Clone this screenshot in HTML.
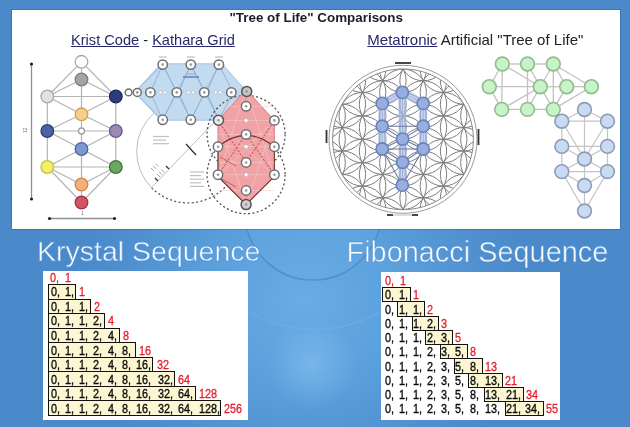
<!DOCTYPE html>
<html><head><meta charset="utf-8"><style>
html,body{margin:0;padding:0;width:630px;height:427px;overflow:hidden;}
body{position:relative;font-family:"Liberation Sans",sans-serif;
background:#4d8ac8;}
.abs{position:absolute;}
.toppanel{position:absolute;left:12px;top:10px;width:608px;height:219px;background:#fff;box-shadow:0 0 0 1px rgba(40,80,130,0.35);}
.panel{position:absolute;background:#fff;}
.box{position:absolute;box-sizing:border-box;border:1.4px solid #111;background:#fcf7d2;}
.t{position:absolute;font-size:12.3px;line-height:15px;color:#0c0c0c;white-space:pre;-webkit-text-stroke:0.35px #0c0c0c;margin-top:1.4px;transform:scaleX(0.88);transform-origin:0 0}
.t.red{color:#e4202a;-webkit-text-stroke:0.3px #e4202a;}

.head{position:absolute;color:#fbfdff;-webkit-text-stroke:0.8px rgba(86,148,212,0.75);white-space:nowrap;line-height:1;}
#wrap{position:absolute;left:0;top:0;width:630px;height:427px;filter:blur(0.35px);}
</style></head><body><div id="wrap">
<svg class="abs" style="left:0;top:0" width="630" height="427" viewBox="0 0 630 427">
<defs>
<radialGradient id="glow" cx="305" cy="300" r="230" gradientUnits="userSpaceOnUse" gradientTransform="translate(305 300) scale(1 0.9) translate(-305 -300)">
<stop offset="0" stop-color="#68ade6"/><stop offset="0.45" stop-color="#5a9edb"/><stop offset="0.8" stop-color="#4f8fcf"/><stop offset="1" stop-color="#4b8aca"/>
</radialGradient>
<radialGradient id="spot" cx="312" cy="365" r="45" gradientUnits="userSpaceOnUse">
<stop offset="0" stop-color="#8cc4f0" stop-opacity="0.55"/><stop offset="1" stop-color="#8cc4f0" stop-opacity="0"/>
</radialGradient>
</defs>
<rect width="630" height="427" fill="url(#glow)"/>
<rect width="630" height="427" fill="url(#spot)"/>
<circle cx="313" cy="212" r="68" fill="#6aaee6" fill-opacity="0.25" stroke="#4a88c6" stroke-opacity="0.7" stroke-width="1.6"/>
<path d="M 250 312 A 131 131 0 0 0 380 312" fill="none" stroke="#7ab8ea" stroke-opacity="0.45" stroke-width="1.2"/>
</svg>
<div class="toppanel"></div>
<svg class="abs" style="left:0;top:0" width="630" height="427" viewBox="0 0 630 427">
<line x1="81.5" y1="61.8" x2="47.3" y2="96.5" stroke="#b4b4b4" stroke-width="1.2" />
<line x1="81.5" y1="61.8" x2="115.8" y2="96.5" stroke="#b4b4b4" stroke-width="1.2" />
<line x1="81.5" y1="61.8" x2="81.5" y2="79.5" stroke="#b4b4b4" stroke-width="1.2" />
<line x1="81.5" y1="79.5" x2="47.3" y2="96.5" stroke="#b4b4b4" stroke-width="1.2" />
<line x1="81.5" y1="79.5" x2="115.8" y2="96.5" stroke="#b4b4b4" stroke-width="1.2" />
<line x1="81.5" y1="79.5" x2="81.5" y2="114.3" stroke="#b4b4b4" stroke-width="1.2" />
<line x1="47.3" y1="96.5" x2="115.8" y2="96.5" stroke="#b4b4b4" stroke-width="1.2" />
<line x1="47.3" y1="96.5" x2="81.5" y2="114.3" stroke="#b4b4b4" stroke-width="1.2" />
<line x1="115.8" y1="96.5" x2="81.5" y2="114.3" stroke="#b4b4b4" stroke-width="1.2" />
<line x1="47.3" y1="96.5" x2="47.3" y2="131.0" stroke="#b4b4b4" stroke-width="1.2" />
<line x1="115.8" y1="96.5" x2="115.8" y2="131.0" stroke="#b4b4b4" stroke-width="1.2" />
<line x1="81.5" y1="114.3" x2="47.3" y2="131.0" stroke="#b4b4b4" stroke-width="1.2" />
<line x1="81.5" y1="114.3" x2="115.8" y2="131.0" stroke="#b4b4b4" stroke-width="1.2" />
<line x1="47.3" y1="131.0" x2="81.5" y2="131.0" stroke="#b4b4b4" stroke-width="1.2" />
<line x1="81.5" y1="131.0" x2="115.8" y2="131.0" stroke="#b4b4b4" stroke-width="1.2" />
<line x1="81.5" y1="114.3" x2="81.5" y2="149.0" stroke="#b4b4b4" stroke-width="1.2" />
<line x1="47.3" y1="131.0" x2="81.5" y2="149.0" stroke="#b4b4b4" stroke-width="1.2" />
<line x1="115.8" y1="131.0" x2="81.5" y2="149.0" stroke="#b4b4b4" stroke-width="1.2" />
<line x1="47.3" y1="131.0" x2="47.3" y2="167.0" stroke="#b4b4b4" stroke-width="1.2" />
<line x1="115.8" y1="131.0" x2="115.8" y2="167.0" stroke="#b4b4b4" stroke-width="1.2" />
<line x1="81.5" y1="149.0" x2="47.3" y2="167.0" stroke="#b4b4b4" stroke-width="1.2" />
<line x1="81.5" y1="149.0" x2="115.8" y2="167.0" stroke="#b4b4b4" stroke-width="1.2" />
<line x1="47.3" y1="167.0" x2="115.8" y2="167.0" stroke="#b4b4b4" stroke-width="1.2" />
<line x1="47.3" y1="167.0" x2="81.5" y2="184.5" stroke="#b4b4b4" stroke-width="1.2" />
<line x1="115.8" y1="167.0" x2="81.5" y2="184.5" stroke="#b4b4b4" stroke-width="1.2" />
<line x1="81.5" y1="149.0" x2="81.5" y2="184.5" stroke="#b4b4b4" stroke-width="1.2" />
<line x1="47.3" y1="167.0" x2="81.5" y2="202.5" stroke="#b4b4b4" stroke-width="1.2" />
<line x1="115.8" y1="167.0" x2="81.5" y2="202.5" stroke="#b4b4b4" stroke-width="1.2" />
<line x1="81.5" y1="184.5" x2="81.5" y2="202.5" stroke="#b4b4b4" stroke-width="1.2" />
<circle cx="81.5" cy="61.8" r="6.3" fill="#ffffff" stroke="#a8a8a8" stroke-width="1.3" />
<circle cx="81.5" cy="79.5" r="6.3" fill="#a4a4a4" stroke="#7c7c7c" stroke-width="1.3" />
<circle cx="47.3" cy="96.5" r="6.3" fill="#e2e2e2" stroke="#a6a6a6" stroke-width="1.3" />
<circle cx="115.8" cy="96.5" r="6.3" fill="#2c3c7c" stroke="#1c2a5c" stroke-width="1.3" />
<circle cx="81.5" cy="114.3" r="6.3" fill="#f4d08c" stroke="#caa25a" stroke-width="1.3" />
<circle cx="47.3" cy="131.0" r="6.3" fill="#4a64a4" stroke="#2a4074" stroke-width="1.3" />
<circle cx="81.5" cy="131.0" r="3.0" fill="#ffffff" stroke="#a0a0a0" stroke-width="1.3" />
<circle cx="115.8" cy="131.0" r="6.3" fill="#9c8ab4" stroke="#6a5a88" stroke-width="1.3" />
<circle cx="81.5" cy="149.0" r="6.3" fill="#7c98cc" stroke="#4a66a0" stroke-width="1.3" />
<circle cx="47.3" cy="167.0" r="6.3" fill="#f4f06a" stroke="#c8bc3c" stroke-width="1.3" />
<circle cx="115.8" cy="167.0" r="6.3" fill="#6aa862" stroke="#3a7430" stroke-width="1.3" />
<circle cx="81.5" cy="184.5" r="6.3" fill="#f4b07c" stroke="#cc8450" stroke-width="1.3" />
<circle cx="81.5" cy="202.5" r="6.3" fill="#d05464" stroke="#a03040" stroke-width="1.3" />
<line x1="31.5" y1="64.0" x2="31.5" y2="199.0" stroke="#909090" stroke-width="1.3" />
<circle cx="31.5" cy="64.0" r="1.6" fill="#222" stroke="none" stroke-width="0" />
<circle cx="31.5" cy="199.0" r="1.6" fill="#222" stroke="none" stroke-width="0" />
<line x1="49.0" y1="218.5" x2="114.5" y2="218.5" stroke="#909090" stroke-width="1.3" />
<circle cx="49.5" cy="218.5" r="1.6" fill="#222" stroke="none" stroke-width="0" />
<circle cx="114.5" cy="218.5" r="1.6" fill="#222" stroke="none" stroke-width="0" />
<text x="27" y="133" font-size="5" fill="#777" font-family="Liberation Sans" transform="rotate(-90 27 133)">12</text>
<text x="81" y="215" font-size="5" fill="#777" font-family="Liberation Sans">1</text>
<path d="M 153.6 113.4 A 51.4 51.4 0 0 0 151.7 187.9" fill="none" stroke="#bdbdbd" stroke-width="1"/>
<path d="M 151.7 187.9 A 51.4 51.4 0 0 0 236.3 169.2" fill="none" stroke="#5a5a5a" stroke-width="1.3" stroke-dasharray="2 2.4"/>
<line x1="151.7" y1="187.4" x2="217.8" y2="118.4" stroke="#b8b8b8" stroke-width="0.9" />
<line x1="186.0" y1="144.0" x2="196.0" y2="155.0" stroke="#333" stroke-width="1.3" />
<line x1="155.0" y1="178.0" x2="158.0" y2="181.0" stroke="#333" stroke-width="1.2" />
<line x1="166.0" y1="166.0" x2="169.0" y2="169.0" stroke="#333" stroke-width="1.2" />
<line x1="153.0" y1="136.5" x2="169.0" y2="136.5" stroke="#c0c0c0" stroke-width="1.2" />
<line x1="153.0" y1="140.1" x2="166.0" y2="140.1" stroke="#c0c0c0" stroke-width="1.2" />
<line x1="153.0" y1="143.7" x2="169.0" y2="143.7" stroke="#c0c0c0" stroke-width="1.2" />
<line x1="190.0" y1="172.0" x2="204.0" y2="172.0" stroke="#c0c0c0" stroke-width="1.2" />
<line x1="190.0" y1="175.6" x2="201.0" y2="175.6" stroke="#c0c0c0" stroke-width="1.2" />
<line x1="190.0" y1="179.2" x2="204.0" y2="179.2" stroke="#c0c0c0" stroke-width="1.2" />
<line x1="190.0" y1="182.8" x2="201.0" y2="182.8" stroke="#c0c0c0" stroke-width="1.2" />
<line x1="190.0" y1="186.4" x2="204.0" y2="186.4" stroke="#c0c0c0" stroke-width="1.2" />
<line x1="151.0" y1="168.0" x2="154.0" y2="171.0" stroke="#999" stroke-width="0.9" />
<line x1="153.2" y1="165.8" x2="156.2" y2="168.8" stroke="#999" stroke-width="0.9" />
<line x1="155.4" y1="163.6" x2="158.4" y2="166.6" stroke="#999" stroke-width="0.9" />
<line x1="157.0" y1="174.0" x2="160.0" y2="177.0" stroke="#999" stroke-width="0.9" />
<line x1="159.2" y1="171.8" x2="162.2" y2="174.8" stroke="#999" stroke-width="0.9" />
<line x1="161.4" y1="169.6" x2="164.4" y2="172.6" stroke="#999" stroke-width="0.9" />
<polygon points="134.6,92.4 161,63.8 222,63.8 246.7,91.4 218.5,120.2 161,120.2" fill="#c3dbf0" stroke="#a9c6e2" stroke-width="1"/>
<line x1="162.7" y1="64.6" x2="150.4" y2="92.4" stroke="#8eaed2" stroke-width="0.9" />
<line x1="162.7" y1="119.8" x2="150.4" y2="92.4" stroke="#8eaed2" stroke-width="0.9" />
<line x1="162.7" y1="64.6" x2="176.8" y2="92.4" stroke="#8eaed2" stroke-width="0.9" />
<line x1="162.7" y1="119.8" x2="176.8" y2="92.4" stroke="#8eaed2" stroke-width="0.9" />
<line x1="190.8" y1="64.6" x2="178.5" y2="92.4" stroke="#8eaed2" stroke-width="0.9" />
<line x1="190.8" y1="119.8" x2="178.5" y2="92.4" stroke="#8eaed2" stroke-width="0.9" />
<line x1="190.8" y1="64.6" x2="204.9" y2="92.4" stroke="#8eaed2" stroke-width="0.9" />
<line x1="190.8" y1="119.8" x2="204.9" y2="92.4" stroke="#8eaed2" stroke-width="0.9" />
<line x1="218.9" y1="64.6" x2="206.6" y2="92.4" stroke="#8eaed2" stroke-width="0.9" />
<line x1="218.9" y1="119.8" x2="206.6" y2="92.4" stroke="#8eaed2" stroke-width="0.9" />
<line x1="218.9" y1="64.6" x2="233.0" y2="92.4" stroke="#8eaed2" stroke-width="0.9" />
<line x1="218.9" y1="119.8" x2="233.0" y2="92.4" stroke="#8eaed2" stroke-width="0.9" />
<line x1="162.7" y1="64.6" x2="190.8" y2="119.8" stroke="#8eaed2" stroke-width="0.7" />
<line x1="162.7" y1="119.8" x2="190.8" y2="64.6" stroke="#8eaed2" stroke-width="0.7" />
<line x1="190.8" y1="64.6" x2="218.9" y2="119.8" stroke="#8eaed2" stroke-width="0.7" />
<line x1="190.8" y1="119.8" x2="218.9" y2="64.6" stroke="#8eaed2" stroke-width="0.7" />
<line x1="134.6" y1="92.4" x2="162.7" y2="119.8" stroke="#8eaed2" stroke-width="0.7" />
<line x1="134.6" y1="92.4" x2="162.7" y2="64.6" stroke="#8eaed2" stroke-width="0.7" />
<line x1="134.6" y1="92.4" x2="246.7" y2="92.4" stroke="#b8d0e8" stroke-width="0.8" />
<line x1="183.0" y1="77.0" x2="199.0" y2="77.0" stroke="#5a7ab0" stroke-width="1.4" />
<line x1="187.0" y1="74.0" x2="195.0" y2="74.0" stroke="#8aa4c8" stroke-width="1.0" />
<circle cx="246.1" cy="134.4" r="39" fill="none" stroke="#505050" stroke-width="1.3" stroke-dasharray="2 2.4"/>
<circle cx="246.1" cy="174.7" r="39" fill="none" stroke="#505050" stroke-width="1.3" stroke-dasharray="2 2.4"/>
<polygon points="246.1,89.5 274.4,120.4 274.4,176.5 246.1,204.6 218,176.5 218,120.4" fill="#f0a2a4" stroke="#d88286" stroke-width="1"/>
<line x1="218.0" y1="106.3" x2="274.4" y2="106.3" stroke="#f6caca" stroke-width="0.6" />
<line x1="218.0" y1="120.4" x2="274.4" y2="120.4" stroke="#f6caca" stroke-width="0.6" />
<line x1="218.0" y1="134.4" x2="274.4" y2="134.4" stroke="#f6caca" stroke-width="0.6" />
<line x1="218.0" y1="146.7" x2="274.4" y2="146.7" stroke="#f6caca" stroke-width="0.6" />
<line x1="218.0" y1="162.5" x2="274.4" y2="162.5" stroke="#f6caca" stroke-width="0.6" />
<line x1="218.0" y1="174.7" x2="274.4" y2="174.7" stroke="#f6caca" stroke-width="0.6" />
<line x1="218.0" y1="190.5" x2="274.4" y2="190.5" stroke="#f6caca" stroke-width="0.6" />
<line x1="218.0" y1="120.4" x2="274.4" y2="176.5" stroke="#f6caca" stroke-width="0.6" />
<line x1="274.4" y1="120.4" x2="218.0" y2="176.5" stroke="#f6caca" stroke-width="0.6" />
<line x1="218.0" y1="120.4" x2="246.1" y2="204.6" stroke="#f6caca" stroke-width="0.6" />
<line x1="274.4" y1="120.4" x2="246.1" y2="204.6" stroke="#f6caca" stroke-width="0.6" />
<line x1="246.1" y1="89.5" x2="218.0" y2="176.5" stroke="#f6caca" stroke-width="0.6" />
<line x1="246.1" y1="89.5" x2="274.4" y2="176.5" stroke="#f6caca" stroke-width="0.6" />
<polyline points="218,120.4 246.1,162.5 274.4,120.4" fill="none" stroke="#c0464c" stroke-width="1" stroke-dasharray="2 1.6"/>
<polyline points="218,174.7 246.1,134.4 274.4,174.7" fill="none" stroke="#c0464c" stroke-width="1" stroke-dasharray="2 1.6"/>
<path d="M 218 146.7 Q 246.1 124 274.4 146.7" fill="none" stroke="#6e3034" stroke-width="1.1"/>
<polyline points="218,146.7 218,176.5 246.1,204.6 274.4,176.5 274.4,146.7" fill="none" stroke="#6e3a3a" stroke-width="1.1"/>
<line x1="220.0" y1="157.0" x2="236.0" y2="166.0" stroke="#b05050" stroke-width="0.8" />
<line x1="220.0" y1="178.0" x2="236.0" y2="187.0" stroke="#b05050" stroke-width="0.8" />
<circle cx="162.7" cy="64.6" r="4.7" fill="#ffffff" stroke="#707070" stroke-width="1.5" /><circle cx="162.7" cy="64.6" r="1.3" fill="#9a9a9a" stroke="none" stroke-width="0" />
<circle cx="162.7" cy="119.8" r="4.7" fill="#ffffff" stroke="#707070" stroke-width="1.5" /><circle cx="162.7" cy="119.8" r="1.3" fill="#9a9a9a" stroke="none" stroke-width="0" />
<circle cx="190.8" cy="64.6" r="4.7" fill="#ffffff" stroke="#707070" stroke-width="1.5" /><circle cx="190.8" cy="64.6" r="1.3" fill="#9a9a9a" stroke="none" stroke-width="0" />
<circle cx="190.8" cy="119.8" r="4.7" fill="#ffffff" stroke="#707070" stroke-width="1.5" /><circle cx="190.8" cy="119.8" r="1.3" fill="#9a9a9a" stroke="none" stroke-width="0" />
<circle cx="218.9" cy="64.6" r="4.7" fill="#ffffff" stroke="#707070" stroke-width="1.5" /><circle cx="218.9" cy="64.6" r="1.3" fill="#9a9a9a" stroke="none" stroke-width="0" />
<circle cx="150.4" cy="92.4" r="4.7" fill="#ffffff" stroke="#707070" stroke-width="1.5" /><circle cx="150.4" cy="92.4" r="1.3" fill="#9a9a9a" stroke="none" stroke-width="0" />
<circle cx="176.8" cy="92.4" r="4.7" fill="#ffffff" stroke="#707070" stroke-width="1.5" /><circle cx="176.8" cy="92.4" r="1.3" fill="#9a9a9a" stroke="none" stroke-width="0" />
<circle cx="204.3" cy="92.4" r="4.7" fill="#ffffff" stroke="#707070" stroke-width="1.5" /><circle cx="204.3" cy="92.4" r="1.3" fill="#9a9a9a" stroke="none" stroke-width="0" />
<circle cx="231.3" cy="92.4" r="4.7" fill="#ffffff" stroke="#707070" stroke-width="1.5" /><circle cx="231.3" cy="92.4" r="1.3" fill="#9a9a9a" stroke="none" stroke-width="0" />
<circle cx="160.5" cy="92.4" r="1.7" fill="#fff" stroke="#b0b0b0" stroke-width="0.6" />
<circle cx="164.9" cy="92.4" r="1.7" fill="#fff" stroke="#b0b0b0" stroke-width="0.6" />
<circle cx="188.6" cy="92.4" r="1.7" fill="#fff" stroke="#b0b0b0" stroke-width="0.6" />
<circle cx="193.0" cy="92.4" r="1.7" fill="#fff" stroke="#b0b0b0" stroke-width="0.6" />
<circle cx="215.7" cy="92.4" r="1.7" fill="#fff" stroke="#b0b0b0" stroke-width="0.6" />
<circle cx="220.1" cy="92.4" r="1.7" fill="#fff" stroke="#b0b0b0" stroke-width="0.6" />
<circle cx="128.6" cy="92.4" r="3.4" fill="#ffffff" stroke="#707070" stroke-width="1.5" />
<circle cx="137.3" cy="92.4" r="4.0" fill="#ffffff" stroke="#707070" stroke-width="1.5" /><circle cx="137.3" cy="92.4" r="1.3" fill="#9a9a9a" stroke="none" stroke-width="0" />
<circle cx="246.7" cy="91.4" r="5.0" fill="#c4c4c4" stroke="#555" stroke-width="1.5" /><circle cx="246.7" cy="91.4" r="1.3" fill="#9a9a9a" stroke="none" stroke-width="0" />
<circle cx="218.5" cy="120.2" r="5.0" fill="#eeeeee" stroke="#555" stroke-width="1.5" /><circle cx="218.5" cy="120.2" r="1.3" fill="#9a9a9a" stroke="none" stroke-width="0" />
<circle cx="246.1" cy="106.3" r="4.7" fill="#ffffff" stroke="#707070" stroke-width="1.5" /><circle cx="246.1" cy="106.3" r="1.3" fill="#9a9a9a" stroke="none" stroke-width="0" />
<circle cx="246.1" cy="134.4" r="4.7" fill="#ffffff" stroke="#707070" stroke-width="1.5" /><circle cx="246.1" cy="134.4" r="1.3" fill="#9a9a9a" stroke="none" stroke-width="0" />
<circle cx="246.1" cy="162.5" r="4.7" fill="#ffffff" stroke="#707070" stroke-width="1.5" /><circle cx="246.1" cy="162.5" r="1.3" fill="#9a9a9a" stroke="none" stroke-width="0" />
<circle cx="246.1" cy="190.5" r="4.7" fill="#ffffff" stroke="#707070" stroke-width="1.5" /><circle cx="246.1" cy="190.5" r="1.3" fill="#9a9a9a" stroke="none" stroke-width="0" />
<circle cx="218.0" cy="146.7" r="4.7" fill="#ffffff" stroke="#707070" stroke-width="1.5" /><circle cx="218.0" cy="146.7" r="1.3" fill="#9a9a9a" stroke="none" stroke-width="0" />
<circle cx="274.4" cy="146.7" r="4.7" fill="#ffffff" stroke="#707070" stroke-width="1.5" /><circle cx="274.4" cy="146.7" r="1.3" fill="#9a9a9a" stroke="none" stroke-width="0" />
<circle cx="218.0" cy="174.7" r="4.7" fill="#ffffff" stroke="#707070" stroke-width="1.5" /><circle cx="218.0" cy="174.7" r="1.3" fill="#9a9a9a" stroke="none" stroke-width="0" />
<circle cx="274.4" cy="174.7" r="4.7" fill="#ffffff" stroke="#707070" stroke-width="1.5" /><circle cx="274.4" cy="174.7" r="1.3" fill="#9a9a9a" stroke="none" stroke-width="0" />
<circle cx="274.4" cy="120.4" r="4.7" fill="#ffffff" stroke="#707070" stroke-width="1.5" /><circle cx="274.4" cy="120.4" r="1.3" fill="#9a9a9a" stroke="none" stroke-width="0" />
<circle cx="246.1" cy="120.4" r="2.0" fill="#fff" stroke="#b8b8b8" stroke-width="0.7" />
<circle cx="246.1" cy="146.7" r="2.0" fill="#fff" stroke="#b8b8b8" stroke-width="0.7" />
<circle cx="246.1" cy="174.7" r="2.0" fill="#fff" stroke="#b8b8b8" stroke-width="0.7" />
<circle cx="246.1" cy="204.6" r="5.0" fill="#d0d0d0" stroke="#555" stroke-width="1.5" /><circle cx="246.1" cy="204.6" r="1.3" fill="#9a9a9a" stroke="none" stroke-width="0" />
<line x1="158.7" y1="57.0" x2="166.7" y2="57.0" stroke="#b0b0b0" stroke-width="1.0" />
<line x1="186.8" y1="57.0" x2="194.8" y2="57.0" stroke="#b0b0b0" stroke-width="1.0" />
<line x1="214.9" y1="57.0" x2="222.9" y2="57.0" stroke="#b0b0b0" stroke-width="1.0" />
<clipPath id="fl"><circle cx="403.0" cy="139.3" r="70.4"/></clipPath>
<g clip-path="url(#fl)" fill="none" stroke="#7e7e7e" stroke-width="1.0"><circle cx="321.94" cy="115.90" r="23.4"/><circle cx="321.94" cy="139.30" r="23.4"/><circle cx="321.94" cy="162.70" r="23.4"/><circle cx="342.21" cy="80.80" r="23.4"/><circle cx="342.21" cy="104.20" r="23.4"/><circle cx="342.21" cy="127.60" r="23.4"/><circle cx="342.21" cy="151.00" r="23.4"/><circle cx="342.21" cy="174.40" r="23.4"/><circle cx="342.21" cy="197.80" r="23.4"/><circle cx="362.47" cy="69.10" r="23.4"/><circle cx="362.47" cy="92.50" r="23.4"/><circle cx="362.47" cy="115.90" r="23.4"/><circle cx="362.47" cy="139.30" r="23.4"/><circle cx="362.47" cy="162.70" r="23.4"/><circle cx="362.47" cy="186.10" r="23.4"/><circle cx="362.47" cy="209.50" r="23.4"/><circle cx="382.74" cy="57.40" r="23.4"/><circle cx="382.74" cy="80.80" r="23.4"/><circle cx="382.74" cy="104.20" r="23.4"/><circle cx="382.74" cy="127.60" r="23.4"/><circle cx="382.74" cy="151.00" r="23.4"/><circle cx="382.74" cy="174.40" r="23.4"/><circle cx="382.74" cy="197.80" r="23.4"/><circle cx="382.74" cy="221.20" r="23.4"/><circle cx="403.00" cy="69.10" r="23.4"/><circle cx="403.00" cy="92.50" r="23.4"/><circle cx="403.00" cy="115.90" r="23.4"/><circle cx="403.00" cy="139.30" r="23.4"/><circle cx="403.00" cy="162.70" r="23.4"/><circle cx="403.00" cy="186.10" r="23.4"/><circle cx="403.00" cy="209.50" r="23.4"/><circle cx="423.26" cy="57.40" r="23.4"/><circle cx="423.26" cy="80.80" r="23.4"/><circle cx="423.26" cy="104.20" r="23.4"/><circle cx="423.26" cy="127.60" r="23.4"/><circle cx="423.26" cy="151.00" r="23.4"/><circle cx="423.26" cy="174.40" r="23.4"/><circle cx="423.26" cy="197.80" r="23.4"/><circle cx="423.26" cy="221.20" r="23.4"/><circle cx="443.53" cy="69.10" r="23.4"/><circle cx="443.53" cy="92.50" r="23.4"/><circle cx="443.53" cy="115.90" r="23.4"/><circle cx="443.53" cy="139.30" r="23.4"/><circle cx="443.53" cy="162.70" r="23.4"/><circle cx="443.53" cy="186.10" r="23.4"/><circle cx="443.53" cy="209.50" r="23.4"/><circle cx="463.79" cy="80.80" r="23.4"/><circle cx="463.79" cy="104.20" r="23.4"/><circle cx="463.79" cy="127.60" r="23.4"/><circle cx="463.79" cy="151.00" r="23.4"/><circle cx="463.79" cy="174.40" r="23.4"/><circle cx="463.79" cy="197.80" r="23.4"/><circle cx="484.06" cy="115.90" r="23.4"/><circle cx="484.06" cy="139.30" r="23.4"/><circle cx="484.06" cy="162.70" r="23.4"/></g>
<circle cx="403.0" cy="139.3" r="70.4" fill="none" stroke="#8a8a8a" stroke-width="1.0" />
<circle cx="403.0" cy="139.3" r="74.0" fill="none" stroke="#9a9a9a" stroke-width="1.0" />
<line x1="395.0" y1="63.0" x2="411.0" y2="63.0" stroke="#333" stroke-width="1.8" />
<line x1="387.0" y1="215.0" x2="393.0" y2="215.0" stroke="#333" stroke-width="1.8" />
<line x1="412.0" y1="215.0" x2="418.0" y2="215.0" stroke="#333" stroke-width="1.8" />
<line x1="326.5" y1="130.0" x2="326.5" y2="143.0" stroke="#333" stroke-width="1.8" />
<line x1="478.5" y1="129.0" x2="478.5" y2="145.0" stroke="#333" stroke-width="1.8" />
<line x1="393.0" y1="215.0" x2="412.0" y2="215.0" stroke="#aaa" stroke-width="0.8" />
<line x1="382.3" y1="103.4" x2="382.2" y2="126.2" stroke="#b0c2ec" stroke-width="8" stroke-opacity="0.7"/>
<line x1="382.2" y1="126.2" x2="382.2" y2="149.0" stroke="#b0c2ec" stroke-width="8" stroke-opacity="0.7"/>
<line x1="423.2" y1="103.4" x2="423.2" y2="126.2" stroke="#b0c2ec" stroke-width="8" stroke-opacity="0.7"/>
<line x1="423.2" y1="126.2" x2="423.2" y2="149.0" stroke="#b0c2ec" stroke-width="8" stroke-opacity="0.7"/>
<line x1="402.3" y1="92.4" x2="402.6" y2="139.1" stroke="#b0c2ec" stroke-width="8" stroke-opacity="0.7"/>
<line x1="402.6" y1="139.1" x2="402.6" y2="162.3" stroke="#b0c2ec" stroke-width="8" stroke-opacity="0.7"/>
<line x1="402.6" y1="162.3" x2="402.3" y2="185.2" stroke="#b0c2ec" stroke-width="8" stroke-opacity="0.7"/>
<line x1="402.3" y1="92.4" x2="382.3" y2="103.4" stroke="#b0c2ec" stroke-width="8" stroke-opacity="0.7"/>
<line x1="402.3" y1="92.4" x2="423.2" y2="103.4" stroke="#b0c2ec" stroke-width="8" stroke-opacity="0.7"/>
<line x1="384.9" y1="103.4" x2="384.8" y2="126.2" stroke="#8a98c0" stroke-width="0.6" />
<line x1="382.3" y1="103.4" x2="382.2" y2="126.2" stroke="#8a98c0" stroke-width="0.6" />
<line x1="379.7" y1="103.4" x2="379.6" y2="126.2" stroke="#8a98c0" stroke-width="0.6" />
<line x1="384.8" y1="126.2" x2="384.8" y2="149.0" stroke="#8a98c0" stroke-width="0.6" />
<line x1="382.2" y1="126.2" x2="382.2" y2="149.0" stroke="#8a98c0" stroke-width="0.6" />
<line x1="379.6" y1="126.2" x2="379.6" y2="149.0" stroke="#8a98c0" stroke-width="0.6" />
<line x1="425.8" y1="103.4" x2="425.8" y2="126.2" stroke="#8a98c0" stroke-width="0.6" />
<line x1="423.2" y1="103.4" x2="423.2" y2="126.2" stroke="#8a98c0" stroke-width="0.6" />
<line x1="420.6" y1="103.4" x2="420.6" y2="126.2" stroke="#8a98c0" stroke-width="0.6" />
<line x1="425.8" y1="126.2" x2="425.8" y2="149.0" stroke="#8a98c0" stroke-width="0.6" />
<line x1="423.2" y1="126.2" x2="423.2" y2="149.0" stroke="#8a98c0" stroke-width="0.6" />
<line x1="420.6" y1="126.2" x2="420.6" y2="149.0" stroke="#8a98c0" stroke-width="0.6" />
<line x1="404.9" y1="92.4" x2="405.2" y2="139.1" stroke="#8a98c0" stroke-width="0.6" />
<line x1="402.3" y1="92.4" x2="402.6" y2="139.1" stroke="#8a98c0" stroke-width="0.6" />
<line x1="399.7" y1="92.4" x2="400.0" y2="139.1" stroke="#8a98c0" stroke-width="0.6" />
<line x1="405.2" y1="139.1" x2="405.2" y2="162.3" stroke="#8a98c0" stroke-width="0.6" />
<line x1="402.6" y1="139.1" x2="402.6" y2="162.3" stroke="#8a98c0" stroke-width="0.6" />
<line x1="400.0" y1="139.1" x2="400.0" y2="162.3" stroke="#8a98c0" stroke-width="0.6" />
<line x1="405.2" y1="162.3" x2="404.9" y2="185.2" stroke="#8a98c0" stroke-width="0.6" />
<line x1="402.6" y1="162.3" x2="402.3" y2="185.2" stroke="#8a98c0" stroke-width="0.6" />
<line x1="400.0" y1="162.3" x2="399.7" y2="185.2" stroke="#8a98c0" stroke-width="0.6" />
<line x1="403.6" y1="94.7" x2="383.6" y2="105.7" stroke="#8a98c0" stroke-width="0.6" />
<line x1="402.3" y1="92.4" x2="382.3" y2="103.4" stroke="#8a98c0" stroke-width="0.6" />
<line x1="401.0" y1="90.1" x2="381.0" y2="101.1" stroke="#8a98c0" stroke-width="0.6" />
<line x1="403.5" y1="90.1" x2="424.4" y2="101.1" stroke="#8a98c0" stroke-width="0.6" />
<line x1="402.3" y1="92.4" x2="423.2" y2="103.4" stroke="#8a98c0" stroke-width="0.6" />
<line x1="401.1" y1="94.7" x2="422.0" y2="105.7" stroke="#8a98c0" stroke-width="0.6" />
<line x1="382.2" y1="126.2" x2="423.2" y2="126.2" stroke="#6a78a4" stroke-width="1.1" />
<line x1="382.2" y1="126.2" x2="402.6" y2="139.1" stroke="#6a78a4" stroke-width="1.1" />
<line x1="423.2" y1="126.2" x2="402.6" y2="139.1" stroke="#6a78a4" stroke-width="1.1" />
<line x1="382.2" y1="149.0" x2="402.6" y2="139.1" stroke="#6a78a4" stroke-width="1.1" />
<line x1="423.2" y1="149.0" x2="402.6" y2="139.1" stroke="#6a78a4" stroke-width="1.1" />
<line x1="382.2" y1="149.0" x2="402.3" y2="185.2" stroke="#6a78a4" stroke-width="1.1" />
<line x1="423.2" y1="149.0" x2="402.3" y2="185.2" stroke="#6a78a4" stroke-width="1.1" />
<line x1="382.2" y1="149.0" x2="423.2" y2="149.0" stroke="#6a78a4" stroke-width="1.1" />
<line x1="382.2" y1="149.0" x2="402.6" y2="162.3" stroke="#6a78a4" stroke-width="1.1" />
<line x1="423.2" y1="149.0" x2="402.6" y2="162.3" stroke="#6a78a4" stroke-width="1.1" />
<circle cx="402.3" cy="92.4" r="6.1" fill="#98aedf" stroke="#6882ba" stroke-width="1.6" />
<circle cx="382.3" cy="103.4" r="6.1" fill="#98aedf" stroke="#6882ba" stroke-width="1.6" />
<circle cx="423.2" cy="103.4" r="6.1" fill="#98aedf" stroke="#6882ba" stroke-width="1.6" />
<circle cx="382.2" cy="126.2" r="6.1" fill="#98aedf" stroke="#6882ba" stroke-width="1.6" />
<circle cx="423.2" cy="126.2" r="6.1" fill="#98aedf" stroke="#6882ba" stroke-width="1.6" />
<circle cx="402.6" cy="139.1" r="6.1" fill="#98aedf" stroke="#6882ba" stroke-width="1.6" />
<circle cx="382.2" cy="149.0" r="6.1" fill="#98aedf" stroke="#6882ba" stroke-width="1.6" />
<circle cx="423.2" cy="149.0" r="6.1" fill="#98aedf" stroke="#6882ba" stroke-width="1.6" />
<circle cx="402.6" cy="162.3" r="6.1" fill="#98aedf" stroke="#6882ba" stroke-width="1.6" />
<circle cx="402.3" cy="185.2" r="6.1" fill="#98aedf" stroke="#6882ba" stroke-width="1.6" />
<line x1="502.3" y1="64.0" x2="527.5" y2="64.0" stroke="#c6c0c0" stroke-width="1.3" />
<line x1="527.5" y1="64.0" x2="553.3" y2="64.0" stroke="#c6c0c0" stroke-width="1.3" />
<line x1="501.7" y1="109.4" x2="527.5" y2="109.4" stroke="#c6c0c0" stroke-width="1.3" />
<line x1="527.5" y1="109.4" x2="553.3" y2="109.4" stroke="#c6c0c0" stroke-width="1.3" />
<line x1="489.3" y1="86.7" x2="502.3" y2="64.0" stroke="#c6c0c0" stroke-width="1.3" />
<line x1="489.3" y1="86.7" x2="501.7" y2="109.4" stroke="#c6c0c0" stroke-width="1.3" />
<line x1="502.3" y1="64.0" x2="501.7" y2="109.4" stroke="#c6c0c0" stroke-width="1.3" />
<line x1="489.3" y1="86.7" x2="540.3" y2="86.7" stroke="#c6c0c0" stroke-width="1.3" />
<line x1="540.3" y1="86.7" x2="566.7" y2="86.7" stroke="#c6c0c0" stroke-width="1.3" />
<line x1="566.7" y1="86.7" x2="591.4" y2="86.7" stroke="#c6c0c0" stroke-width="1.3" />
<line x1="527.5" y1="64.0" x2="540.3" y2="86.7" stroke="#c6c0c0" stroke-width="1.3" />
<line x1="502.3" y1="64.0" x2="540.3" y2="86.7" stroke="#c6c0c0" stroke-width="1.3" />
<line x1="501.7" y1="109.4" x2="540.3" y2="86.7" stroke="#c6c0c0" stroke-width="1.3" />
<line x1="527.5" y1="64.0" x2="527.5" y2="109.4" stroke="#c6c0c0" stroke-width="1.3" />
<line x1="553.3" y1="64.0" x2="553.3" y2="109.4" stroke="#c6c0c0" stroke-width="1.3" />
<line x1="540.3" y1="86.7" x2="553.3" y2="64.0" stroke="#c6c0c0" stroke-width="1.3" />
<line x1="540.3" y1="86.7" x2="553.3" y2="109.4" stroke="#c6c0c0" stroke-width="1.3" />
<line x1="553.3" y1="64.0" x2="591.4" y2="86.7" stroke="#c6c0c0" stroke-width="1.3" />
<line x1="553.3" y1="109.4" x2="591.4" y2="86.7" stroke="#c6c0c0" stroke-width="1.3" />
<line x1="566.7" y1="86.7" x2="553.3" y2="64.0" stroke="#c6c0c0" stroke-width="1.3" />
<line x1="566.7" y1="86.7" x2="553.3" y2="109.4" stroke="#c6c0c0" stroke-width="1.3" />
<line x1="527.5" y1="109.4" x2="540.3" y2="86.7" stroke="#c6c0c0" stroke-width="1.3" />
<line x1="584.5" y1="109.5" x2="561.8" y2="121.2" stroke="#c4c4c4" stroke-width="1.2" />
<line x1="584.5" y1="109.5" x2="607.5" y2="121.2" stroke="#c4c4c4" stroke-width="1.2" />
<line x1="561.8" y1="121.2" x2="607.5" y2="121.2" stroke="#c4c4c4" stroke-width="1.2" />
<line x1="561.8" y1="121.2" x2="561.8" y2="146.4" stroke="#c4c4c4" stroke-width="1.2" />
<line x1="607.5" y1="121.2" x2="607.5" y2="146.4" stroke="#c4c4c4" stroke-width="1.2" />
<line x1="584.5" y1="109.5" x2="584.5" y2="159.0" stroke="#c4c4c4" stroke-width="1.2" />
<line x1="561.8" y1="121.2" x2="584.5" y2="159.0" stroke="#c4c4c4" stroke-width="1.2" />
<line x1="607.5" y1="121.2" x2="584.5" y2="159.0" stroke="#c4c4c4" stroke-width="1.2" />
<line x1="561.8" y1="146.4" x2="584.5" y2="159.0" stroke="#c4c4c4" stroke-width="1.2" />
<line x1="607.5" y1="146.4" x2="584.5" y2="159.0" stroke="#c4c4c4" stroke-width="1.2" />
<line x1="561.8" y1="146.4" x2="561.8" y2="171.6" stroke="#c4c4c4" stroke-width="1.2" />
<line x1="607.5" y1="146.4" x2="607.5" y2="171.6" stroke="#c4c4c4" stroke-width="1.2" />
<line x1="584.5" y1="159.0" x2="561.8" y2="171.6" stroke="#c4c4c4" stroke-width="1.2" />
<line x1="584.5" y1="159.0" x2="607.5" y2="171.6" stroke="#c4c4c4" stroke-width="1.2" />
<line x1="561.8" y1="171.6" x2="607.5" y2="171.6" stroke="#c4c4c4" stroke-width="1.2" />
<line x1="584.5" y1="159.0" x2="584.5" y2="185.5" stroke="#c4c4c4" stroke-width="1.2" />
<line x1="561.8" y1="171.6" x2="584.5" y2="185.5" stroke="#c4c4c4" stroke-width="1.2" />
<line x1="607.5" y1="171.6" x2="584.5" y2="185.5" stroke="#c4c4c4" stroke-width="1.2" />
<line x1="584.5" y1="185.5" x2="584.5" y2="211.0" stroke="#c4c4c4" stroke-width="1.2" />
<line x1="561.8" y1="171.6" x2="584.5" y2="211.0" stroke="#c4c4c4" stroke-width="1.2" />
<line x1="607.5" y1="171.6" x2="584.5" y2="211.0" stroke="#c4c4c4" stroke-width="1.2" />
<line x1="561.8" y1="146.4" x2="607.5" y2="146.4" stroke="#c4c4c4" stroke-width="1.2" />
<circle cx="502.3" cy="64.0" r="6.9" fill="#c8f2c8" stroke="#90bc90" stroke-width="1.6" />
<circle cx="527.5" cy="64.0" r="6.9" fill="#c8f2c8" stroke="#90bc90" stroke-width="1.6" />
<circle cx="553.3" cy="64.0" r="6.9" fill="#c8f2c8" stroke="#90bc90" stroke-width="1.6" />
<circle cx="489.3" cy="86.7" r="6.9" fill="#c8f2c8" stroke="#90bc90" stroke-width="1.6" />
<circle cx="540.3" cy="86.7" r="6.9" fill="#c8f2c8" stroke="#90bc90" stroke-width="1.6" />
<circle cx="566.7" cy="86.7" r="6.9" fill="#c8f2c8" stroke="#90bc90" stroke-width="1.6" />
<circle cx="591.4" cy="86.7" r="6.9" fill="#c8f2c8" stroke="#90bc90" stroke-width="1.6" />
<circle cx="501.7" cy="109.4" r="6.9" fill="#c8f2c8" stroke="#90bc90" stroke-width="1.6" />
<circle cx="527.5" cy="109.4" r="6.9" fill="#c8f2c8" stroke="#90bc90" stroke-width="1.6" />
<circle cx="553.3" cy="109.4" r="6.9" fill="#c8f2c8" stroke="#90bc90" stroke-width="1.6" />
<circle cx="584.5" cy="109.5" r="6.9" fill="#c9dbf3" stroke="#8c9cb8" stroke-width="1.6" />
<circle cx="561.8" cy="121.2" r="6.9" fill="#c9dbf3" stroke="#8c9cb8" stroke-width="1.6" />
<circle cx="607.5" cy="121.2" r="6.9" fill="#c9dbf3" stroke="#8c9cb8" stroke-width="1.6" />
<circle cx="561.8" cy="146.4" r="6.9" fill="#c9dbf3" stroke="#8c9cb8" stroke-width="1.6" />
<circle cx="607.5" cy="146.4" r="6.9" fill="#c9dbf3" stroke="#8c9cb8" stroke-width="1.6" />
<circle cx="584.5" cy="159.0" r="6.9" fill="#c9dbf3" stroke="#8c9cb8" stroke-width="1.6" />
<circle cx="561.8" cy="171.6" r="6.9" fill="#c9dbf3" stroke="#8c9cb8" stroke-width="1.6" />
<circle cx="607.5" cy="171.6" r="6.9" fill="#c9dbf3" stroke="#8c9cb8" stroke-width="1.6" />
<circle cx="584.5" cy="185.5" r="6.9" fill="#c9dbf3" stroke="#8c9cb8" stroke-width="1.6" />
<circle cx="584.5" cy="211.0" r="6.9" fill="#c9dbf3" stroke="#8c9cb8" stroke-width="1.6" />
</svg>
<div class="abs" style="left:229.5px;top:10px;font-size:13.4px;font-weight:bold;color:#1c1c28;white-space:nowrap">"Tree of Life" Comparisons</div>
<div class="abs" style="left:71px;top:32px;font-size:14.6px;color:#222;white-space:nowrap"><span style="color:#28286a;text-decoration:underline">Krist Code</span> - <span style="color:#28286a;text-decoration:underline">Kathara Grid</span></div>
<div class="abs" style="left:367.3px;top:31.2px;font-size:15px;color:#222;white-space:nowrap"><span style="color:#28286a;text-decoration:underline">Metatronic</span> Artificial "Tree of Life"</div>
<div class="head" style="left:37px;top:236.5px;font-size:28.5px">Krystal Sequence</div>
<div class="head" style="left:346.5px;top:237.5px;font-size:28.9px">Fibonacci Sequence</div>
<div class="panel" style="left:43px;top:270.5px;width:205px;height:149.5px"></div>
<div class="red t" style="left:50.3px;top:269.70px">0,</div><div class="red t" style="left:65px;top:269.70px">1</div>
<div class="box" style="left:47.5px;top:284.00px;width:28.2px;height:15.75px"></div>
<div class="t" style="left:50.6px;top:284.00px">0,</div>
<div class="t" style="left:65.3px;top:284.00px">1,</div>
<div class="red t" style="left:78.9px;top:284.00px">1</div>
<div class="box" style="left:47.5px;top:298.55px;width:43.5px;height:15.75px"></div>
<div class="t" style="left:50.6px;top:298.55px">0,</div>
<div class="t" style="left:65.3px;top:298.55px">1,</div>
<div class="t" style="left:79.1px;top:298.55px">1,</div>
<div class="red t" style="left:94.2px;top:298.55px">2</div>
<div class="box" style="left:47.5px;top:313.10px;width:57.7px;height:15.75px"></div>
<div class="t" style="left:50.6px;top:313.10px">0,</div>
<div class="t" style="left:65.3px;top:313.10px">1,</div>
<div class="t" style="left:79.1px;top:313.10px">1,</div>
<div class="t" style="left:93.4px;top:313.10px">2,</div>
<div class="red t" style="left:108.4px;top:313.10px">4</div>
<div class="box" style="left:47.5px;top:327.65px;width:72.3px;height:15.75px"></div>
<div class="t" style="left:50.6px;top:327.65px">0,</div>
<div class="t" style="left:65.3px;top:327.65px">1,</div>
<div class="t" style="left:79.1px;top:327.65px">1,</div>
<div class="t" style="left:93.4px;top:327.65px">2,</div>
<div class="t" style="left:107.7px;top:327.65px">4,</div>
<div class="red t" style="left:123.0px;top:327.65px">8</div>
<div class="box" style="left:47.5px;top:342.20px;width:88.0px;height:15.75px"></div>
<div class="t" style="left:50.6px;top:342.20px">0,</div>
<div class="t" style="left:65.3px;top:342.20px">1,</div>
<div class="t" style="left:79.1px;top:342.20px">1,</div>
<div class="t" style="left:93.4px;top:342.20px">2,</div>
<div class="t" style="left:107.7px;top:342.20px">4,</div>
<div class="t" style="left:122.0px;top:342.20px">8,</div>
<div class="red t" style="left:138.7px;top:342.20px">16</div>
<div class="box" style="left:47.5px;top:356.75px;width:105.9px;height:15.75px"></div>
<div class="t" style="left:50.6px;top:356.75px">0,</div>
<div class="t" style="left:65.3px;top:356.75px">1,</div>
<div class="t" style="left:79.1px;top:356.75px">1,</div>
<div class="t" style="left:93.4px;top:356.75px">2,</div>
<div class="t" style="left:107.7px;top:356.75px">4,</div>
<div class="t" style="left:122.0px;top:356.75px">8,</div>
<div class="t" style="left:136.3px;top:356.75px">16,</div>
<div class="red t" style="left:156.6px;top:356.75px">32</div>
<div class="box" style="left:47.5px;top:371.30px;width:127.3px;height:15.75px"></div>
<div class="t" style="left:50.6px;top:371.30px">0,</div>
<div class="t" style="left:65.3px;top:371.30px">1,</div>
<div class="t" style="left:79.1px;top:371.30px">1,</div>
<div class="t" style="left:93.4px;top:371.30px">2,</div>
<div class="t" style="left:107.7px;top:371.30px">4,</div>
<div class="t" style="left:122.0px;top:371.30px">8,</div>
<div class="t" style="left:136.3px;top:371.30px">16,</div>
<div class="t" style="left:157.5px;top:371.30px">32,</div>
<div class="red t" style="left:178.0px;top:371.30px">64</div>
<div class="box" style="left:47.5px;top:385.85px;width:148.1px;height:15.75px"></div>
<div class="t" style="left:50.6px;top:385.85px">0,</div>
<div class="t" style="left:65.3px;top:385.85px">1,</div>
<div class="t" style="left:79.1px;top:385.85px">1,</div>
<div class="t" style="left:93.4px;top:385.85px">2,</div>
<div class="t" style="left:107.7px;top:385.85px">4,</div>
<div class="t" style="left:122.0px;top:385.85px">8,</div>
<div class="t" style="left:136.3px;top:385.85px">16,</div>
<div class="t" style="left:157.5px;top:385.85px">32,</div>
<div class="t" style="left:178.4px;top:385.85px">64,</div>
<div class="red t" style="left:198.8px;top:385.85px">128</div>
<div class="box" style="left:47.5px;top:400.40px;width:173.5px;height:15.75px"></div>
<div class="t" style="left:50.6px;top:400.40px">0,</div>
<div class="t" style="left:65.3px;top:400.40px">1,</div>
<div class="t" style="left:79.1px;top:400.40px">1,</div>
<div class="t" style="left:93.4px;top:400.40px">2,</div>
<div class="t" style="left:107.7px;top:400.40px">4,</div>
<div class="t" style="left:122.0px;top:400.40px">8,</div>
<div class="t" style="left:136.3px;top:400.40px">16,</div>
<div class="t" style="left:157.5px;top:400.40px">32,</div>
<div class="t" style="left:178.4px;top:400.40px">64,</div>
<div class="t" style="left:199.4px;top:400.40px">128,</div>
<div class="red t" style="left:224.2px;top:400.40px">256</div>
<div class="panel" style="left:380.5px;top:272px;width:179.5px;height:148px"></div>
<div class="red t" style="left:385px;top:272.70px">0,</div><div class="red t" style="left:399.5px;top:272.70px">1</div>
<div class="box" style="left:382.4px;top:287.00px;width:28.9px;height:15.45px"></div>
<div class="t" style="left:385.0px;top:287.00px">0,</div>
<div class="t" style="left:399.3px;top:287.00px">1,</div>
<div class="red t" style="left:412.9px;top:287.00px">1</div>
<div class="box" style="left:397.4px;top:301.25px;width:27.9px;height:15.45px"></div>
<div class="t" style="left:385.0px;top:301.25px">0,</div>
<div class="t" style="left:399.3px;top:301.25px">1,</div>
<div class="t" style="left:412.6px;top:301.25px">1,</div>
<div class="red t" style="left:426.9px;top:301.25px">2</div>
<div class="box" style="left:411.8px;top:315.50px;width:27.3px;height:15.45px"></div>
<div class="t" style="left:385.0px;top:315.50px">0,</div>
<div class="t" style="left:399.3px;top:315.50px">1,</div>
<div class="t" style="left:412.6px;top:315.50px">1,</div>
<div class="t" style="left:427.1px;top:315.50px">2,</div>
<div class="red t" style="left:440.7px;top:315.50px">3</div>
<div class="box" style="left:425.3px;top:329.75px;width:28.2px;height:15.45px"></div>
<div class="t" style="left:385.0px;top:329.75px">0,</div>
<div class="t" style="left:399.3px;top:329.75px">1,</div>
<div class="t" style="left:412.6px;top:329.75px">1,</div>
<div class="t" style="left:427.1px;top:329.75px">2,</div>
<div class="t" style="left:440.7px;top:329.75px">3,</div>
<div class="red t" style="left:455.1px;top:329.75px">5</div>
<div class="box" style="left:439.6px;top:344.00px;width:28.7px;height:15.45px"></div>
<div class="t" style="left:385.0px;top:344.00px">0,</div>
<div class="t" style="left:399.3px;top:344.00px">1,</div>
<div class="t" style="left:412.6px;top:344.00px">1,</div>
<div class="t" style="left:427.1px;top:344.00px">2,</div>
<div class="t" style="left:440.7px;top:344.00px">3,</div>
<div class="t" style="left:455.0px;top:344.00px">5,</div>
<div class="red t" style="left:469.9px;top:344.00px">8</div>
<div class="box" style="left:454.0px;top:358.25px;width:29.0px;height:15.45px"></div>
<div class="t" style="left:385.0px;top:358.25px">0,</div>
<div class="t" style="left:399.3px;top:358.25px">1,</div>
<div class="t" style="left:412.6px;top:358.25px">1,</div>
<div class="t" style="left:427.1px;top:358.25px">2,</div>
<div class="t" style="left:440.7px;top:358.25px">3,</div>
<div class="t" style="left:455.0px;top:358.25px">5,</div>
<div class="t" style="left:470.3px;top:358.25px">8,</div>
<div class="red t" style="left:484.6px;top:358.25px">13</div>
<div class="box" style="left:468.3px;top:372.50px;width:35.0px;height:15.45px"></div>
<div class="t" style="left:385.0px;top:372.50px">0,</div>
<div class="t" style="left:399.3px;top:372.50px">1,</div>
<div class="t" style="left:412.6px;top:372.50px">1,</div>
<div class="t" style="left:427.1px;top:372.50px">2,</div>
<div class="t" style="left:440.7px;top:372.50px">3,</div>
<div class="t" style="left:455.0px;top:372.50px">5,</div>
<div class="t" style="left:470.3px;top:372.50px">8,</div>
<div class="t" style="left:484.6px;top:372.50px">13,</div>
<div class="red t" style="left:504.9px;top:372.50px">21</div>
<div class="box" style="left:483.5px;top:386.75px;width:40.8px;height:15.45px"></div>
<div class="t" style="left:385.0px;top:386.75px">0,</div>
<div class="t" style="left:399.3px;top:386.75px">1,</div>
<div class="t" style="left:412.6px;top:386.75px">1,</div>
<div class="t" style="left:427.1px;top:386.75px">2,</div>
<div class="t" style="left:440.7px;top:386.75px">3,</div>
<div class="t" style="left:455.0px;top:386.75px">5,</div>
<div class="t" style="left:470.3px;top:386.75px">8,</div>
<div class="t" style="left:484.6px;top:386.75px">13,</div>
<div class="t" style="left:506.0px;top:386.75px">21,</div>
<div class="red t" style="left:525.9px;top:386.75px">34</div>
<div class="box" style="left:505.0px;top:401.00px;width:39.1px;height:15.45px"></div>
<div class="t" style="left:385.0px;top:401.00px">0,</div>
<div class="t" style="left:399.3px;top:401.00px">1,</div>
<div class="t" style="left:412.6px;top:401.00px">1,</div>
<div class="t" style="left:427.1px;top:401.00px">2,</div>
<div class="t" style="left:440.7px;top:401.00px">3,</div>
<div class="t" style="left:455.0px;top:401.00px">5,</div>
<div class="t" style="left:470.3px;top:401.00px">8,</div>
<div class="t" style="left:484.6px;top:401.00px">13,</div>
<div class="t" style="left:506.0px;top:401.00px">21,</div>
<div class="t" style="left:525.0px;top:401.00px">34,</div>
<div class="red t" style="left:545.7px;top:401.00px">55</div>
</div></body></html>
